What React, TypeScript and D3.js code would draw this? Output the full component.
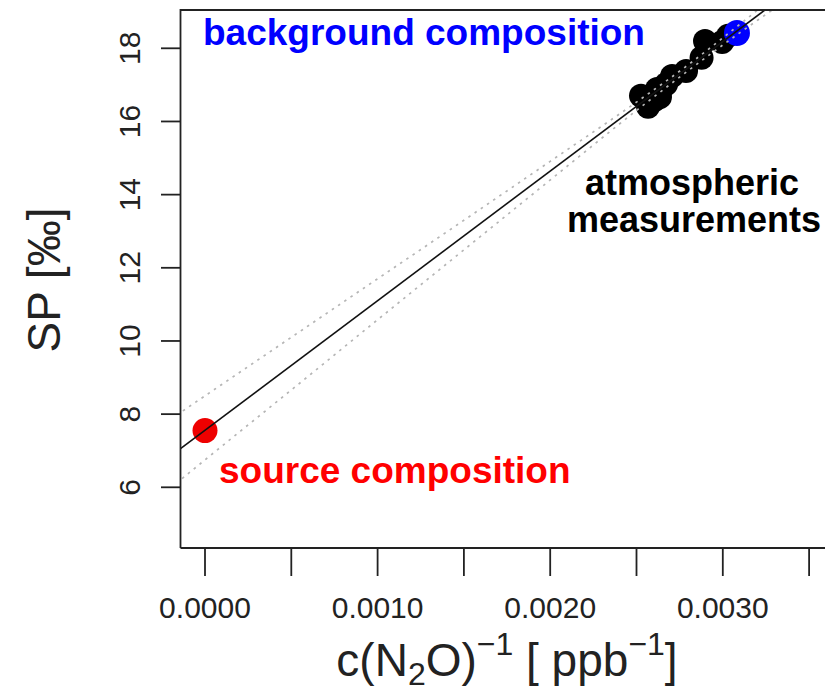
import React from "react";
import * as d3 from "d3";

// ---- data ----
const atmX = [0.002526, 0.002567, 0.002607, 0.002619, 0.002636, 0.002671, 0.002706, 0.002787, 0.002877, 0.002897, 0.002996, 0.00303];
const atmY = [16.7, 16.4, 16.59, 16.89, 16.67, 17.02, 17.24, 17.38, 17.74, 18.2, 18.17, 18.34];
const backgroundPoint = [0.003082, 18.42];
const sourcePoint = [0.0, 7.55];

const fitIntercept = 7.56;
const fitSlope = 3541;

const bandX = [-0.0002, 0, 0.0005, 0.001, 0.0015, 0.002, 0.0025, 0.0028, 0.0031, 0.0035, 0.004];
const bandUpper = [7.86, 8.5, 10.1, 11.7, 13.3, 14.91, 16.53, 17.55, 18.66, 20.19, 22.0];
const bandLower = [5.98, 6.75, 8.66, 10.58, 12.49, 14.4, 16.3, 17.39, 18.43, 19.73, 21.3];

const xTicks = [0, 0.0005, 0.001, 0.0015, 0.002, 0.0025, 0.003, 0.0035];
const xTickLabels = ["0.0000", "0.0010", "0.0020", "0.0030"];
const xTickLabelValues = [0, 0.001, 0.002, 0.003];
const yTicks = [6, 8, 10, 12, 14, 16, 18];

const W = 825;
const H = 691;
const FONT = "'Liberation Sans', Arial, Helvetica, sans-serif";

export default function App() {
  const x = d3.scaleLinear().domain([0, 0.003]).range([205, 722.8]);
  const y = d3.scaleLinear().domain([6, 18]).range([487.3, 48.3]);

  const boxL = 180.5;
  const boxT = 10;
  const boxB = 548;
  const boxR = 900;

  const xMin = x.invert(boxL);
  const xMax = x.invert(boxR);

  const fitLine = d3
    .line<number>()
    .x((d) => x(d))
    .y((d) => y(fitIntercept + fitSlope * d));

  const bandLine = (vals: number[]) =>
    d3
      .line<number>()
      .x((d) => x(d))
      .y((_, i) => y(vals[i]))
      .curve(d3.curveMonotoneX)(bandX) as string;

  return (
    <svg
      width={W}
      height={H}
      style={{ position: "absolute", left: 0, top: 0, background: "#fff" }}
      fontFamily={FONT}
    >
      <defs>
        <clipPath id="plotclip">
          <rect x={boxL} y={boxT} width={boxR - boxL} height={boxB - boxT} />
        </clipPath>
      </defs>

      {/* points */}
      <g>
        {atmX.map((v, i) => (
          <circle key={i} cx={x(v)} cy={y(atmY[i])} r={12} fill="#000" />
        ))}
        <circle cx={x(backgroundPoint[0])} cy={y(backgroundPoint[1])} r={13} fill="#0000ff" />
        <circle cx={x(sourcePoint[0])} cy={y(sourcePoint[1])} r={12.5} fill="#ee0000" />
      </g>

      {/* fit and confidence band */}
      <g clipPath="url(#plotclip)">
        <path d={bandLine(bandUpper)} fill="none" stroke="#b5b5b5" strokeWidth={1.7} strokeDasharray="2.5 5" />
        <path d={bandLine(bandLower)} fill="none" stroke="#b5b5b5" strokeWidth={1.7} strokeDasharray="2.5 5" />
        <path d={fitLine([xMin, xMax]) as string} fill="none" stroke="#111" strokeWidth={1.6} />
      </g>

      {/* box */}
      <path
        d={`M${boxL},${boxB}V${boxT}H${W + 5}M${boxL},${boxB}H${W + 5}`}
        fill="none"
        stroke="#222"
        strokeWidth={1.8}
      />

      {/* x axis */}
      <g>
        {xTicks.map((t) => (
          <line key={t} x1={x(t)} x2={x(t)} y1={boxB} y2={576} stroke="#222" strokeWidth={1.8} />
        ))}
        {xTickLabels.map((lab, i) => (
          <text key={lab} x={x(xTickLabelValues[i])} y={618} textAnchor="middle" fontSize={30} fill="#222">
            {lab}
          </text>
        ))}
        <text x={507} y={676} textAnchor="middle" fontSize={46} fill="#222">
          c(N
          <tspan fontSize={32} dy={9}>2</tspan>
          <tspan dy={-9}>O)</tspan>
          <tspan fontSize={32} dy={-21}>−1</tspan>
          <tspan dy={21}> [ ppb</tspan>
          <tspan fontSize={32} dy={-21}>−1</tspan>
          <tspan dy={21}>]</tspan>
        </text>
      </g>

      {/* y axis */}
      <g>
        {yTicks.map((t) => (
          <line key={t} x1={161} x2={boxL} y1={y(t)} y2={y(t)} stroke="#222" strokeWidth={1.8} />
        ))}
        {yTicks.map((t) => (
          <text
            key={t}
            transform={`translate(140,${y(t)}) rotate(-90)`}
            textAnchor="middle"
            fontSize={30}
            fill="#222"
          >
            {t}
          </text>
        ))}
        <text transform="translate(60,280) rotate(-90)" textAnchor="middle" fontSize={46} fill="#222">
          SP [‰]
        </text>
      </g>

      {/* annotations */}
      <text x={203} y={45} fontSize={37} fontWeight="bold" fill="#0000ff">
        background composition
      </text>
      <text x={692} y={195} textAnchor="middle" fontSize={36} fontWeight="bold" fill="#000">
        atmospheric
      </text>
      <text x={694} y={232} textAnchor="middle" fontSize={36} fontWeight="bold" fill="#000">
        measurements
      </text>
      <text x={219} y={483} fontSize={37} fontWeight="bold" fill="#ff0000">
        source composition
      </text>
    </svg>
  );
}
